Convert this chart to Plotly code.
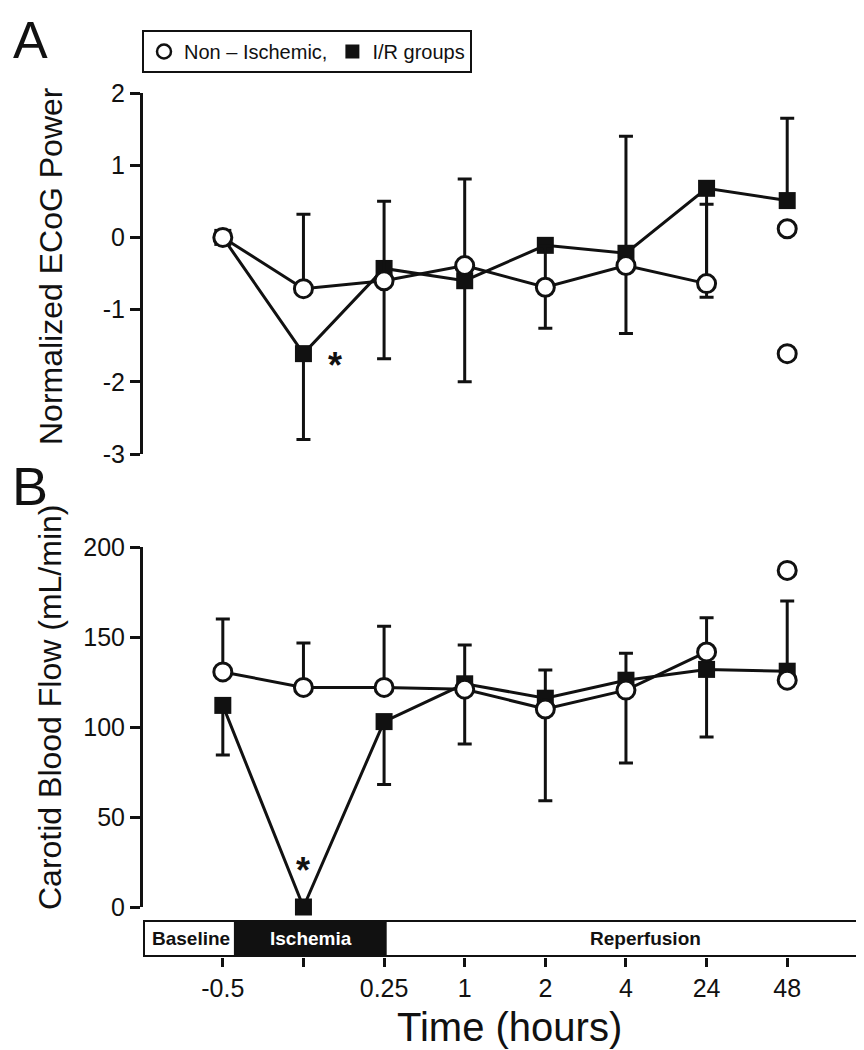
import plotly.graph_objects as go

# ---------------- data ----------------
tick_labels = ["-0.5", "", "0.25", "1", "2", "4", "24", "48"]
time_idx = list(range(len(tick_labels)))

ecog_tickvals = [-3, -2, -1, 0, 1, 2]
ecog_ticktext = ["-3", "-2", "-1", "0", "1", "2"]
flow_tickvals = [0, 50, 100, 150, 200]
flow_ticktext = ["0", "50", "100", "150", "200"]

# Panel A: Normalized ECoG power
ecog_non = [0.0, -0.71, -0.60, -0.39, -0.69, -0.39, -0.64]
ecog_non_plus = [0, 1.03, 1.10, 1.20, 0.57, 0, 1.10]
ecog_non_minus = [0, 0, 0, 0, 0.57, 0.94, 0]
ecog_non_48h = [0.12, -1.61]

ecog_ir = [0.0, -1.61, -0.43, -0.60, -0.11, -0.22, 0.68, 0.51]
ecog_ir_plus = [0, 0, 0, 0, 0, 1.62, 0, 1.14]
ecog_ir_minus = [0, 1.19, 1.25, 1.40, 0, 0, 1.51, 0]

# Panel B: Carotid blood flow (mL/min)
flow_non = [130.6, 122, 122, 121, 110, 120.5, 141.7]
flow_non_plus = [29.4, 24.7, 34, 24.6, 0, 0, 19]
flow_non_minus = [0, 0, 0, 0, 51, 40.5, 0]
flow_non_48h = [187, 126]

flow_ir = [112, 0, 103, 124, 116, 126, 132, 131]
flow_ir_plus = [0, 0, 0, 0, 15.7, 15, 0, 39]
flow_ir_minus = [27.6, 0, 35, 33.4, 0, 0, 37.6, 0]

# phase bar (in time index units)
phases = ["Baseline", "Ischemia", "Reperfusion"]
phase_edges = [-0.99, 0.15, 2.02, 7.94]
phase_label_x = [-0.40, 1.09, 5.24]

FONT = "Liberation Sans, Arial, Helvetica, sans-serif"
INK = "#111111"

fig = go.Figure()


def add_ir(y, plus, minus, yaxis):
    fig.add_trace(go.Scatter(
        x=time_idx[:len(y)], y=y, mode="lines+markers", yaxis=yaxis,
        line=dict(color=INK, width=3),
        marker=dict(symbol="square", size=17, color=INK, line=dict(width=0)),
        error_y=dict(type="data", symmetric=False, array=plus, arrayminus=minus,
                     color=INK, thickness=3, width=7),
        showlegend=False, cliponaxis=False, hoverinfo="skip"))


def add_non(y, plus, minus, extra, yaxis):
    fig.add_trace(go.Scatter(
        x=time_idx[:len(y)], y=y, mode="lines+markers", yaxis=yaxis,
        line=dict(color=INK, width=3),
        marker=dict(symbol="circle", size=18, color="white", line=dict(width=3, color=INK)),
        error_y=dict(type="data", symmetric=False, array=plus, arrayminus=minus,
                     color=INK, thickness=3, width=7),
        showlegend=False, cliponaxis=False, hoverinfo="skip"))
    fig.add_trace(go.Scatter(
        x=[time_idx[-1]] * len(extra), y=extra, mode="markers", yaxis=yaxis,
        marker=dict(symbol="circle", size=18, color="white", line=dict(width=3, color=INK)),
        showlegend=False, cliponaxis=False, hoverinfo="skip"))


add_ir(ecog_ir, ecog_ir_plus, ecog_ir_minus, "y")
add_non(ecog_non, ecog_non_plus, ecog_non_minus, ecog_non_48h, "y")
add_ir(flow_ir, flow_ir_plus, flow_ir_minus, "y2")
add_non(flow_non, flow_non_plus, flow_non_minus, flow_non_48h, "y2")

# legend-only traces
fig.add_trace(go.Scatter(x=[None], y=[None], mode="markers", name="Non \u2013 Ischemic,",
                         marker=dict(symbol="circle", size=14, color="white",
                                     line=dict(width=2.5, color=INK))))
fig.add_trace(go.Scatter(x=[None], y=[None], mode="markers", name="I/R groups",
                         marker=dict(symbol="square", size=14, color=INK)))

# page offset of the plot div (body margin) is compensated here
OFF = 8.0
W = 856.0
H = 1042.0
L = 135.0
R = 1.0
PW = W - L - R


def py(ref_px):
    return 1 - (ref_px - OFF) / H


def pxx(ref_px):
    return (ref_px - OFF - L) / PW


axis_common = dict(showgrid=False, zeroline=False, showline=True, linecolor=INK, linewidth=3,
                   ticks="outside", ticklen=10, tickwidth=3, tickcolor=INK, automargin=False,
                   tickfont=dict(family=FONT, size=25, color=INK))

fig.update_layout(
    width=int(W), height=int(H),
    margin=dict(l=int(L), r=int(R), t=0, b=0, autoexpand=False),
    paper_bgcolor="white", plot_bgcolor="white",
    font=dict(family=FONT, color=INK),
    xaxis=dict(range=[phase_edges[0], phase_edges[-1]], anchor="y3", automargin=False,
               tickvals=time_idx, ticktext=tick_labels,
               showgrid=False, zeroline=False, showline=False,
               ticks="outside", ticklen=9, tickwidth=3, tickcolor=INK,
               tickfont=dict(family=FONT, size=25, color=INK)),
    yaxis=dict(domain=[py(454), py(93)], range=[-3, 2], anchor="x",
               tickvals=ecog_tickvals, ticktext=ecog_ticktext, **axis_common),
    yaxis2=dict(domain=[py(907), py(547)], range=[0, 200], anchor="x",
                tickvals=flow_tickvals, ticktext=flow_ticktext, **axis_common),
    yaxis3=dict(domain=[py(957), py(920)], range=[0, 1], anchor="x", visible=False),
    legend=dict(orientation="h", xref="paper", yref="paper",
                x=pxx(142), y=py(30), xanchor="left", yanchor="top",
                bordercolor=INK, borderwidth=2, bgcolor="white",
                font=dict(family=FONT, size=20, color=INK),
                itemsizing="trace", tracegroupgap=0, itemwidth=30),
)

# phase bar
shapes = []
shapes.append(dict(type="rect", xref="x", yref="y3", x0=phase_edges[0], x1=phase_edges[-1],
                   y0=0, y1=1, fillcolor="white", line=dict(color=INK, width=4), layer="above"))
shapes.append(dict(type="rect", xref="x", yref="y3", x0=phase_edges[1], x1=phase_edges[2],
                   y0=0, y1=1, fillcolor=INK, line=dict(color=INK, width=2), layer="above"))
shapes.append(dict(type="rect", xref="x", yref="y3", x0=phase_edges[0], x1=phase_edges[-1],
                   y0=0, y1=1, fillcolor="rgba(0,0,0,0)", line=dict(color=INK, width=4), layer="above"))
fig.update_layout(shapes=shapes)

annotations = []
phase_colors = [INK, "white", INK]
for i, name in enumerate(phases):
    annotations.append(dict(text="<b>%s</b>" % name, x=phase_label_x[i], y=0.5, xref="x", yref="y3",
                            xanchor="center", yanchor="middle",
                            showarrow=False, font=dict(family=FONT, size=19, color=phase_colors[i])))


def paper_text(text, x, y, size, angle=0):
    return dict(text=text, textangle=angle, xref="paper", yref="paper",
                x=pxx(x), y=py(y), xanchor="center", yanchor="middle", showarrow=False,
                font=dict(family=FONT, size=size, color=INK))


# axis titles
annotations.append(paper_text("Normalized ECoG Power", 51, 266, 32, -90))
annotations.append(paper_text("Carotid Blood Flow (mL/min)", 50, 708, 32, -90))
annotations.append(paper_text("Time (hours)", 509, 1027, 40))
# panel letters
annotations.append(paper_text("A", 30, 40, 52))
annotations.append(paper_text("B", 30, 486, 54))
# significance stars
annotations.append(dict(text="<b>*</b>", x=1.39, y=-1.66, xref="x", yref="y", showarrow=False,
                        xanchor="center", yanchor="middle",
                        yshift=-8, font=dict(family=FONT, size=36, color=INK)))
annotations.append(dict(text="<b>*</b>", x=1.0, y=23, xref="x", yref="y2", showarrow=False,
                        xanchor="center", yanchor="middle",
                        yshift=-5, font=dict(family=FONT, size=36, color=INK)))
fig.update_layout(annotations=annotations)

fig.write_html("out.html")
